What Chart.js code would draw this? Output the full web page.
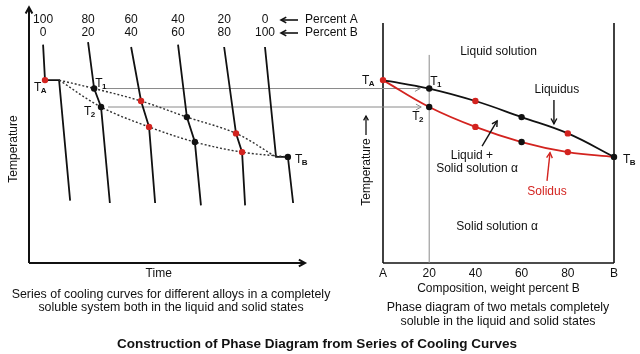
<!DOCTYPE html>
<html>
<head>
<meta charset="utf-8">
<script src="https://cdn.jsdelivr.net/npm/chart.js@4.4.1/dist/chart.umd.min.js"></script>
<style>
  html, body { margin: 0; padding: 0; background: #fff; }
  canvas { display: block; }
</style>
</head>
<body>
<canvas id="phaseChart" width="640" height="354"></canvas>
<script>
// composition of the six alloys (one cooling curve each)
const percentA = [100, 80, 60, 40, 20, 0];
const percentB = [0, 20, 40, 60, 80, 100];

// temperature where freezing starts (liquidus) and ends (solidus)
const liquidusTemp = [76.2, 72.7, 67.5, 60.8, 54.0, 44.2];
const solidusTemp  = [76.2, 65.0, 56.7, 50.4, 46.2, 44.2];

// cooling curves: time at start, at liquidus, at solidus, at end
const startTime    = [0.51, 2.14, 3.70, 5.40, 7.07, 8.55];
const startTemp    = [91, 92, 90, 91, 90, 90];
const liquidusTime = [0.58, 2.36, 4.06, 5.72, 7.50, 8.95];
const solidusTime  = [1.09, 2.61, 4.35, 6.01, 7.72, 9.38];
const endTime      = [1.49, 2.93, 4.57, 6.23, 7.83, 9.57];
const endTemp      = [26, 25, 25, 24, 24, 25];

// x tick labels of the phase diagram
const compLabels = ["A", "20", "40", "60", "80", "B"];

const RED = "#d3231f";
const BLACK = "#111111";
const GREY = "#8a8a8a";
const markColors = [RED, BLACK, RED, BLACK, RED, BLACK];
const FONT = "Arial, 'Liberation Sans', sans-serif";

// where the two panels sit on the 640x354 page
const W = 640, H = 354;
function span(pxA, pxB, vA, vB, size) {
  const k = (vB - vA) / (pxB - pxA);
  return { min: vA - pxA * k, max: vA + (size - pxA) * k };
}
const timeRange = span(29, 305, 0, 10, W);
const compRange = span(383, 614, 0, 100, W);
const tempRange = span(H - 263, H - 23, 0, 100, H);

// ---- datasets ----
const coolingCurves = percentA.map((a, i) => ({
  type: "line",
  xAxisID: "xt",
  data: [
    { x: startTime[i], y: startTemp[i] },
    { x: liquidusTime[i], y: liquidusTemp[i] },
    { x: solidusTime[i], y: solidusTemp[i] },
    { x: endTime[i], y: endTemp[i] }
  ],
  borderColor: BLACK,
  borderWidth: 1.8,
  pointRadius: 0,
  tension: 0
}));

const dottedLiquidus = [{ x: solidusTime[0], y: liquidusTemp[0] }]
  .concat(liquidusTime.slice(1).map((t, i) => ({ x: t, y: liquidusTemp[i + 1] })));
const dottedSolidus = solidusTime.map((t, i) => ({ x: t, y: solidusTemp[i] }));

const leftDots = [], leftDotColors = [];
percentA.forEach((a, i) => {
  if (i !== 5) { leftDots.push({ x: liquidusTime[i], y: liquidusTemp[i] }); leftDotColors.push(markColors[i]); }
  if (i !== 0) { leftDots.push({ x: solidusTime[i], y: solidusTemp[i] }); leftDotColors.push(markColors[i]); }
});

const datasets = [
  {
    type: "scatter", xAxisID: "xt", data: leftDots,
    pointRadius: 3.2, pointBackgroundColor: leftDotColors, pointBorderWidth: 0
  },
  {
    type: "line", xAxisID: "xc",
    data: percentB.map((b, i) => ({ x: b, y: liquidusTemp[i] })),
    borderColor: BLACK, borderWidth: 1.8, tension: 0.4,
    pointRadius: 3.2, pointBackgroundColor: markColors, pointBorderWidth: 0
  },
  {
    type: "line", xAxisID: "xc",
    data: percentB.map((b, i) => ({ x: b, y: solidusTemp[i] })),
    borderColor: RED, borderWidth: 1.8, tension: 0.4,
    pointRadius: [0, 3.2, 3.2, 3.2, 3.2, 0], pointBackgroundColor: markColors, pointBorderWidth: 0
  },
  {
    type: "line", xAxisID: "xt", data: dottedLiquidus,
    borderColor: "#333", borderWidth: 1.4, borderDash: [2, 2],
    tension: 0.35, pointRadius: 0
  },
  {
    type: "line", xAxisID: "xt", data: dottedSolidus,
    borderColor: "#333", borderWidth: 1.4, borderDash: [2, 2],
    tension: 0.35, pointRadius: 0
  }
].concat(coolingCurves);

// ---- drawing helpers ----
function line(ctx, x1, y1, x2, y2, color, width) {
  ctx.save();
  ctx.strokeStyle = color; ctx.lineWidth = width;
  ctx.beginPath(); ctx.moveTo(x1, y1); ctx.lineTo(x2, y2); ctx.stroke();
  ctx.restore();
}

function arrow(ctx, x1, y1, x2, y2, color, width, head) {
  line(ctx, x1, y1, x2, y2, color, width);
  const a = Math.atan2(y2 - y1, x2 - x1);
  ctx.save();
  ctx.strokeStyle = color; ctx.lineWidth = width;
  ctx.beginPath();
  ctx.moveTo(x2 - head * Math.cos(a - 0.5), y2 - head * Math.sin(a - 0.5));
  ctx.lineTo(x2, y2);
  ctx.lineTo(x2 - head * Math.cos(a + 0.5), y2 - head * Math.sin(a + 0.5));
  ctx.stroke();
  ctx.restore();
}

function text(ctx, str, x, y, opts = {}) {
  ctx.save();
  ctx.font = (opts.bold ? "bold " : "") + (opts.size || 12) + "px " + FONT;
  ctx.fillStyle = opts.color || BLACK;
  ctx.textAlign = opts.align || "center";
  ctx.textBaseline = "middle";
  if (opts.rotate) {
    ctx.translate(x, y); ctx.rotate(opts.rotate); ctx.fillText(str, 0, 0);
  } else {
    ctx.fillText(str, x, y);
  }
  ctx.restore();
}

function tLabel(ctx, sub, x, y) {
  ctx.save();
  ctx.fillStyle = BLACK;
  ctx.textAlign = "left"; ctx.textBaseline = "alphabetic";
  ctx.font = "12px " + FONT;
  ctx.fillText("T", x, y);
  const w = ctx.measureText("T").width;
  ctx.font = "bold 8px " + FONT;
  ctx.fillText(sub, x + w - 0.5, y + 2);
  ctx.restore();
}

const diagramPlugin = {
  id: "diagram",
  beforeDatasetsDraw(chart) {
    const { ctx, scales: { xt, xc, y } } = chart;
    const X = v => xt.getPixelForValue(v);
    const C = v => xc.getPixelForValue(v);
    const Y = v => y.getPixelForValue(v);

    // cooling-curve axes
    arrow(ctx, X(0), Y(0), X(0), Y(106.5), BLACK, 2, 7);
    arrow(ctx, X(0), Y(0), X(10), Y(0), BLACK, 2, 7);

    // phase diagram frame
    line(ctx, C(0), Y(100), C(0), Y(0), BLACK, 1.6);
    line(ctx, C(100), Y(100), C(100), Y(0), BLACK, 1.6);
    line(ctx, C(0), Y(0), C(100), Y(0), BLACK, 1.6);
    line(ctx, C(20), Y(86.7), C(20), Y(0), GREY, 1);

    // transfer of T1 and T2 to the phase diagram
    arrow(ctx, X(liquidusTime[1]) + 9, Y(liquidusTemp[1]), C(20) - 9, Y(liquidusTemp[1]), GREY, 1, 6);
    arrow(ctx, X(solidusTime[1]) + 7, Y(solidusTemp[1]), C(20) - 8, Y(solidusTemp[1]), GREY, 1, 6);
  },
  afterDatasetsDraw(chart) {
    const { ctx, scales: { xt, xc, y } } = chart;
    const X = v => xt.getPixelForValue(v);
    const C = v => xc.getPixelForValue(v);
    const Y = v => y.getPixelForValue(v);

    // compositions over the cooling curves
    percentA.forEach((a, i) => {
      text(ctx, String(a), X(startTime[i]), 20);
      text(ctx, String(percentB[i]), X(startTime[i]), 33);
    });
    arrow(ctx, 298, 20, 281, 20, BLACK, 1.6, 6);
    arrow(ctx, 298, 33, 281, 33, BLACK, 1.6, 6);
    text(ctx, "Percent A", 305, 20, { align: "left" });
    text(ctx, "Percent B", 305, 33, { align: "left" });

    text(ctx, "Temperature", 14, 149, { rotate: -Math.PI / 2 });
    text(ctx, "Time", X(4.7), 274);

    // T labels, cooling curves
    tLabel(ctx, "A", X(liquidusTime[0]) - 11, Y(liquidusTemp[0]) + 11);
    tLabel(ctx, "1", X(liquidusTime[1]) + 1, Y(liquidusTemp[1]) - 2);
    tLabel(ctx, "2", X(solidusTime[1]) - 17, Y(solidusTemp[1]) + 8);
    tLabel(ctx, "B", X(solidusTime[5]) + 7, Y(solidusTemp[5]) + 6);

    // T labels, phase diagram
    tLabel(ctx, "A", C(0) - 21, Y(liquidusTemp[0]) + 4);
    tLabel(ctx, "1", C(20) + 1, Y(liquidusTemp[1]) - 4);
    tLabel(ctx, "2", C(20) - 17, Y(solidusTemp[1]) + 13);
    tLabel(ctx, "B", C(100) + 9, Y(liquidusTemp[5]) + 6);

    // phase diagram annotations
    text(ctx, "Liquid solution", C(50), Y(87.9));
    text(ctx, "Liquidus", C(75.3), Y(72.1));
    arrow(ctx, C(74), Y(67.9), C(74), Y(58), BLACK, 1.4, 6);
    text(ctx, "Liquid +", C(38.5), Y(44.6));
    text(ctx, "Solid solution \u03b1", C(40.7), Y(39.2));
    arrow(ctx, C(42.9), Y(48.7), C(49.4), Y(59.2), BLACK, 1.4, 6);
    text(ctx, "Solidus", C(71), Y(29.6), { color: RED });
    arrow(ctx, C(71), Y(34.2), C(72.3), Y(46), RED, 1.4, 6);
    text(ctx, "Solid solution \u03b1", C(49.4), Y(15));

    text(ctx, "Temperature", 367, 172, { rotate: -Math.PI / 2 });
    arrow(ctx, 366, 135, 366, 116, BLACK, 1.3, 5);

    percentB.forEach((b, i) => text(ctx, compLabels[i], C(b), 274));
    text(ctx, "Composition, weight percent B", C(50), 289);

    // captions
    text(ctx, "Series of cooling curves for different alloys in a completely", 171, 295, { size: 12.4 });
    text(ctx, "soluble system both in the liquid and solid states", 171, 308, { size: 12.4 });
    text(ctx, "Phase diagram of two metals completely", 498, 308, { size: 12.4 });
    text(ctx, "soluble in the liquid and solid states", 498, 322, { size: 12.4 });
    text(ctx, "Construction of Phase Diagram from Series of Cooling Curves", 317, 344, { bold: true, size: 13.5 });
  }
};

new Chart(document.getElementById("phaseChart"), {
  data: { datasets },
  options: {
    responsive: false,
    animation: false,
    layout: { padding: 0, autoPadding: false },
    plugins: { legend: { display: false }, tooltip: { enabled: false } },
    scales: {
      xt: { type: "linear", position: "bottom", display: false, min: timeRange.min, max: timeRange.max },
      xc: { type: "linear", position: "bottom", display: false, min: compRange.min, max: compRange.max },
      y: { type: "linear", display: false, min: tempRange.min, max: tempRange.max }
    }
  },
  plugins: [diagramPlugin]
});
</script>
</body>
</html>
